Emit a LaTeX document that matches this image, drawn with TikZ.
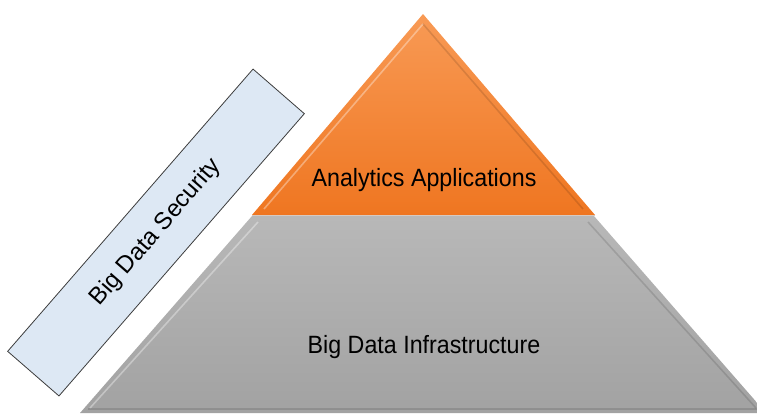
\documentclass[tikz,border=0pt]{standalone}
\usepackage{fontspec}
\setmainfont[FakeStretch=0.93]{Liberation Sans}
\newfontfamily\rotsans{Liberation Sans}
\definecolor{orTop}{HTML}{F89A55}
\definecolor{orBot}{HTML}{EF7621}
\definecolor{grTop}{HTML}{B8B8B8}
\definecolor{grBot}{HTML}{A2A2A2}
\definecolor{secFill}{HTML}{DDE8F4}
\definecolor{secLine}{HTML}{3C3C3C}
\begin{document}
\begin{tikzpicture}[x=1pt,y=-1pt,
  lbl/.style={font=\fontsize{25}{30}\selectfont, text=black, inner sep=0pt},
  secbox/.style={draw=secLine, line width=0.8pt, fill=secFill, minimum width=374pt,
    minimum height=68pt, inner sep=0pt, font=\rotsans\fontsize{24}{29}\selectfont},
  bevlight/.style={draw=white, draw opacity=0.35, line width=1.6pt},
  bevdark/.style={draw=black, draw opacity=0.12, line width=1.6pt}]
\useasboundingbox (0,0) rectangle (757,416);
\clip (0,0) rectangle (757,416);
% pyramid coordinates
\coordinate (apex) at (423,14);
\coordinate (tl) at (252,215);
\coordinate (tr) at (595,215);
\coordinate (gl) at (252,216);
\coordinate (gr) at (594,216);
\coordinate (br) at (766,413);
\coordinate (bl) at (80,413);
% gray base
\shade[top color=grTop, bottom color=grBot] (gl) -- (gr) -- (br) -- (bl) -- cycle;
\draw[bevlight] (258,222) -- (90,408);
\draw[bevdark] (588,222) -- (756,408);
\draw[bevdark] (88,409) -- (757,409);
% orange top
\shade[top color=orTop, bottom color=orBot] (apex) -- (tr) -- (tl) -- cycle;
\draw[bevlight] (423,24) -- (264,209);
\draw[bevdark] (423,24) -- (583,209);
\draw[draw=black, draw opacity=0.15, line width=1pt] (tl) -- (tr);
% labels
\node[lbl, anchor=base] (aa) at (424,186) {Analytics Applications};
\node[lbl, anchor=base] (bi) at (424,353) {Big Data Infrastructure};
% security bar
\node[secbox, rotate=49] (sec) at (156,232.5) {Big Data Security};
\end{tikzpicture}
\end{document}
